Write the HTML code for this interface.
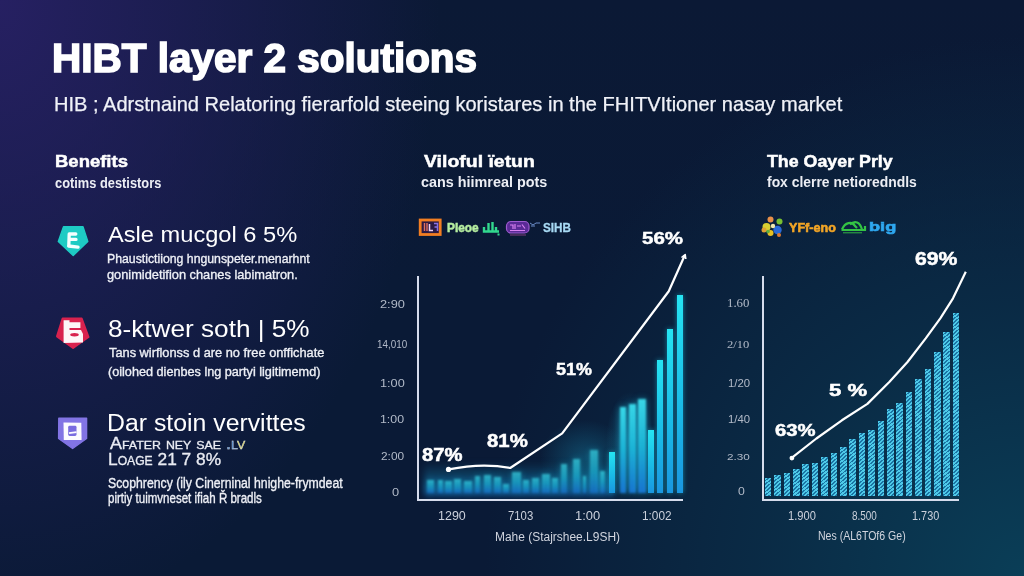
<!DOCTYPE html>
<html><head><meta charset="utf-8"><style>
html,body{margin:0;padding:0;}
body{width:1024px;height:576px;overflow:hidden;position:relative;background:#0d1a37;}
#bg{position:absolute;left:0;top:0;width:1024px;height:576px;
 background:
  radial-gradient(ellipse 440px 620px at 0px 0px, rgba(38,32,98,1) 0%, rgba(38,32,98,0.5) 50%, rgba(38,32,98,0) 100%),
  radial-gradient(ellipse 540px 540px at 1024px 576px, rgba(10,62,87,1) 0%, rgba(10,62,87,0.45) 50%, rgba(10,62,87,0) 100%),
  linear-gradient(180deg,#0b1935 0%,#0a1a36 50%,#0a1a36 100%);}
.t{position:absolute;white-space:nowrap;line-height:1;transform-origin:0 0;}
.sans{font-family:"Liberation Sans", sans-serif;}
.serif{font-family:"Liberation Serif", serif;}
.ax{position:absolute;background:#d6dcec;}
.hb{position:absolute;width:6.8px;background:repeating-linear-gradient(140deg,#4ecae8 0px,#4ecae8 1.6px,#1a74a4 1.6px,#1a74a4 2.8px);}
.gb{position:absolute;background:linear-gradient(180deg,rgba(60,225,240,0.95),rgba(30,190,225,0.9) 50%,rgba(25,120,215,0.95));filter:blur(1.1px);box-shadow:0 0 6px rgba(30,200,235,0.55);}
.band{position:absolute;left:424px;top:462px;width:190px;height:34px;background:linear-gradient(180deg,rgba(20,150,200,0) 0%,rgba(25,160,210,0.3) 45%,rgba(25,120,215,0.5) 100%);filter:blur(3px);}
.haze{position:absolute;left:540px;top:420px;width:90px;height:75px;background:radial-gradient(closest-side,rgba(30,180,220,0.28),rgba(30,180,220,0) 100%);}
.glow{position:absolute;left:606px;top:392px;width:48px;height:100px;background:radial-gradient(closest-side,rgba(40,190,230,0.35),rgba(40,190,230,0) 100%);}
.sb{position:absolute;background:linear-gradient(180deg,#26e4f2,#1ab8e6 60%,#1a96e0);box-shadow:0 0 5px rgba(30,210,240,0.55);}
svg{position:absolute;left:0;top:0;}
</style></head><body>
<div id="bg"></div>
<svg width="1024" height="576" viewBox="0 0 1024 576">
 <defs><filter id="soft" x="-20%" y="-20%" width="140%" height="140%"><feGaussianBlur stdDeviation="0.6"/></filter></defs>
 <!-- icon 1 teal -->
 <path d="M63.5,226.8 L83,226.8 L87.8,241.5 L73.2,255.5 L58.3,241.5 Z" fill="#1ecbc4" stroke="#1ecbc4" stroke-width="1.4" stroke-linejoin="round"/>
 <path d="M69.2,234 L68.8,245.8 M69.2,234 L75.8,234 M71,239.4 L76,239.4 M68.6,246 L78,247.2" stroke="#f4fffe" stroke-width="3.3" fill="none" stroke-linecap="round"/>
 <!-- icon 2 red -->
 <path d="M62.6,318.5 L81.7,318.5 L88.5,337 L73.1,348 L57,336.4 Z" fill="#d8224e" stroke="#d8224e" stroke-width="2" stroke-linejoin="round"/>
 <path d="M63.6,320.3 L69.5,320.3 L69.5,322.2 L80.4,322.2 L80.4,328 L69.5,328 L69.5,330 L81,330 L83,334 L83,342.5 L63.6,343 Z" fill="#fdf6f8"/>
 <ellipse cx="74.5" cy="334.8" rx="4.3" ry="1.7" fill="#d8224e"/>
 <!-- icon 3 purple -->
 <path d="M58.8,418.3 L86.6,418.3 L86.6,438.5 L72.6,448.5 L58.6,438.5 Z" fill="#8274e4" stroke="#8274e4" stroke-width="1.4" stroke-linejoin="round"/>
 <path d="M63.5,422.5 L81.3,422.8 L81.6,440 L63.8,440 Z" fill="#fbfaff"/>
 <rect x="68.2" y="425.8" width="8.3" height="10.2" rx="1.4" fill="#7a6ce0"/>
 <path d="M69,433.2 L76.5,432.2" stroke="#fbfaff" stroke-width="1.8"/>
 <!-- legend 1 icons -->
 <rect x="420.2" y="220" width="20" height="14.5" fill="#2c1a44" stroke="#f27e22" stroke-width="2.8"/>
 <path d="M424.5,223 L424.5,231 M427,223 L427,231" stroke="#e07060" stroke-width="1.4"/>
 <path d="M429.5,224 L429.5,230.5 L433,230.5" stroke="#f0d0f0" stroke-width="1.5" fill="none"/>
 <path d="M434,223.5 L437.5,223.5 L437.5,231 M434.5,227 L437.5,227" stroke="#8a70e0" stroke-width="1.5" fill="none"/>
 <path d="M484,227 L484,231.5 L499,231.5 M488.5,223 L488.5,231 M492.5,222 L492.5,231 M496,227 L496,231" stroke="#32d88e" stroke-width="2.4" fill="none"/>
 <rect x="497.5" y="233.5" width="2" height="2" fill="#32d88e"/>
 <rect x="506.5" y="221.5" width="22.5" height="11.5" rx="4.5" fill="#5a2a96" stroke="#9e5ad0" stroke-width="1.2"/>
 <path d="M510,225 L513,225 L513,229 M515,224 L515,229 M517,226 L521,226 M522,224.5 L525,228.5 M510,230.5 L525,230.5" stroke="#d880f0" stroke-width="1.2" fill="none"/>
 <path d="M510,235 L526,235" stroke="#a04890" stroke-width="0.8"/>
 <path d="M530,223 L533,225 L536,223 L540,223 M531,226 L535,226" stroke="#6a8cc8" stroke-width="1" fill="none"/>
 <!-- legend 2 icons -->
 <g filter="url(#soft)">
 <circle cx="766.5" cy="227" r="4" fill="#d8d030"/>
 <circle cx="764" cy="230" r="2.5" fill="#e0a030"/>
 <circle cx="770.5" cy="219.5" r="3" fill="#e8904a"/>
 <circle cx="779.5" cy="221.5" r="3" fill="#78c030"/>
 <circle cx="770.5" cy="233" r="3" fill="#e8c020"/>
 <circle cx="777.5" cy="230" r="4.2" fill="#2a6ad8"/>
 <circle cx="779" cy="235" r="2" fill="#e07a30"/>
 <circle cx="773" cy="226" r="2.2" fill="#f0e8b0"/>
 <circle cx="768" cy="231.5" r="1.8" fill="#60b040"/>
 </g>
 <path d="M842,229.5 C845,222 852,221 855,226 L857,228 M850,224.5 C855,220 860,222 862,229.5 M841.5,230 L864,230 M865,226 L865,231" stroke="#34c444" stroke-width="2.2" fill="none"/>
 <path d="M843,232.8 L862,232.8" stroke="#34c444" stroke-width="0.9"/>
</svg>
<div class="band"></div><div class="haze"></div><div class="glow"></div>
<div class="gb" style="left:427.0px;top:479.6px;width:6.7px;height:13.4px;opacity:0.72;"></div>
<div class="gb" style="left:437.8px;top:479.6px;width:5.4px;height:13.4px;opacity:0.72;"></div>
<div class="gb" style="left:445.0px;top:480.5px;width:7.0px;height:12.5px;opacity:0.72;"></div>
<div class="gb" style="left:454.0px;top:479.0px;width:7.0px;height:14.0px;opacity:0.72;"></div>
<div class="gb" style="left:463.7px;top:480.5px;width:8.3px;height:12.5px;opacity:0.72;"></div>
<div class="gb" style="left:474.7px;top:475.5px;width:5.3px;height:17.5px;opacity:0.72;"></div>
<div class="gb" style="left:484.0px;top:474.9px;width:7.0px;height:18.1px;opacity:0.72;"></div>
<div class="gb" style="left:493.8px;top:477.0px;width:6.9px;height:16.0px;opacity:0.72;"></div>
<div class="gb" style="left:503.4px;top:483.7px;width:5.5px;height:9.3px;opacity:0.72;"></div>
<div class="gb" style="left:511.6px;top:472.0px;width:9.4px;height:21.0px;opacity:0.72;"></div>
<div class="gb" style="left:522.5px;top:480.0px;width:6.9px;height:13.0px;opacity:0.72;"></div>
<div class="gb" style="left:532.0px;top:478.0px;width:7.0px;height:15.0px;opacity:0.72;"></div>
<div class="gb" style="left:541.7px;top:473.5px;width:8.3px;height:19.5px;opacity:0.72;"></div>
<div class="gb" style="left:552.0px;top:477.7px;width:5.6px;height:15.3px;opacity:0.72;"></div>
<div class="gb" style="left:561.0px;top:463.6px;width:6.0px;height:29.4px;opacity:0.72;"></div>
<div class="gb" style="left:572.8px;top:459.2px;width:7.6px;height:33.8px;opacity:0.72;"></div>
<div class="gb" style="left:582.6px;top:475.5px;width:3.2px;height:17.5px;opacity:0.72;"></div>
<div class="gb" style="left:590.0px;top:449.5px;width:7.8px;height:43.5px;opacity:0.72;"></div>
<div class="gb" style="left:600.0px;top:471.0px;width:5.3px;height:22.0px;opacity:0.72;"></div>
<div class="sb" style="left:609.0px;top:451.6px;width:6.1px;height:41.4px;"></div>
<div class="gb" style="left:619.5px;top:407.0px;width:6.5px;height:86.0px;"></div>
<div class="gb" style="left:629.2px;top:403.9px;width:6.5px;height:89.1px;"></div>
<div class="gb" style="left:638.0px;top:399.0px;width:7.5px;height:94.0px;"></div>
<div class="sb" style="left:647.7px;top:429.5px;width:6.1px;height:63.5px;"></div>
<div class="sb" style="left:657.2px;top:359.7px;width:6.2px;height:133.3px;"></div>
<div class="sb" style="left:667.2px;top:329.4px;width:6.2px;height:163.6px;"></div>
<div class="sb" style="left:676.6px;top:295.0px;width:6.2px;height:198.0px;"></div>
<div class="hb" style="left:764.7px;top:477.8px;height:17.8px"></div>
<div class="hb" style="left:774.1px;top:474.5px;height:21.1px"></div>
<div class="hb" style="left:783.5px;top:473.0px;height:22.6px"></div>
<div class="hb" style="left:792.9px;top:468.9px;height:26.7px"></div>
<div class="hb" style="left:802.3px;top:464.2px;height:31.4px"></div>
<div class="hb" style="left:811.7px;top:463.3px;height:32.3px"></div>
<div class="hb" style="left:821.1px;top:456.7px;height:38.9px"></div>
<div class="hb" style="left:830.5px;top:452.5px;height:43.1px"></div>
<div class="hb" style="left:839.9px;top:447.3px;height:48.3px"></div>
<div class="hb" style="left:849.3px;top:438.9px;height:56.7px"></div>
<div class="hb" style="left:858.7px;top:433.2px;height:62.4px"></div>
<div class="hb" style="left:868.1px;top:429.5px;height:66.1px"></div>
<div class="hb" style="left:877.5px;top:420.6px;height:75.0px"></div>
<div class="hb" style="left:886.9px;top:408.9px;height:86.7px"></div>
<div class="hb" style="left:896.3px;top:402.8px;height:92.8px"></div>
<div class="hb" style="left:905.7px;top:392.4px;height:103.2px"></div>
<div class="hb" style="left:915.1px;top:379.3px;height:116.3px"></div>
<div class="hb" style="left:924.5px;top:369.0px;height:126.6px"></div>
<div class="hb" style="left:933.9px;top:351.6px;height:144.0px"></div>
<div class="hb" style="left:943.3px;top:331.5px;height:164.1px"></div>
<div class="hb" style="left:952.7px;top:312.7px;height:182.9px"></div>
<div class="ax" style="left:416.8px;top:275.5px;width:1.8px;height:225.5px"></div>
<div class="ax" style="left:416.8px;top:499px;width:266.5px;height:2px"></div>
<div class="ax" style="left:761.9px;top:275.5px;width:1.8px;height:225.5px"></div>
<div class="ax" style="left:761.9px;top:499px;width:197px;height:2px"></div>
<svg width="1024" height="576" viewBox="0 0 1024 576">
 <!-- chart lines -->
 <path d="M448.7,469.4 Q482,462.5 510.2,468 L562.2,433.3 L668.75,291.25 L684.7,255.5" fill="none" stroke="#ffffff" stroke-width="2.2" stroke-linejoin="round"/>
 <path d="M681.5,257.5 L685.2,254.5 L685.8,259" fill="none" stroke="#ffffff" stroke-width="1.6" stroke-linejoin="round"/>
 <circle cx="448.5" cy="469.4" r="2.6" fill="#ffffff"/>
 <polyline points="791.7,457.8 816.4,438.5 841.9,420.3 867.4,403.9 889.3,382 907.5,362 925.7,338.3 940.3,318.3 953,298.3 965.8,271.7" fill="none" stroke="#ffffff" stroke-width="2.2" stroke-linejoin="round"/>
 <circle cx="791.9" cy="458.1" r="2.4" fill="#ffffff"/>
</svg>
<div id="t_title" class="t sans" style="left:52.33px;top:38.90px;font-size:40.26px;font-weight:700;color:#ffffff;transform:scaleX(1.0056);-webkit-text-stroke:1.6px #ffffff;">HIBT layer 2 solutions</div>
<div id="t_sub" class="t sans" style="left:54.24px;top:94.00px;font-size:20.78px;font-weight:400;color:#f0f2f8;transform:scaleX(0.9660);-webkit-text-stroke:0.25px #f0f2f8;">HIB ; Adrstnaind Relatoring fierarfold steeing koristares in the FHITVItioner nasay market</div>
<div id="t_h1" class="t sans" style="left:55.04px;top:153.11px;font-size:17.15px;font-weight:700;color:#ffffff;transform:scaleX(1.0787);-webkit-text-stroke:0.5px #ffffff;">Benefits</div>
<div id="t_s1" class="t sans" style="left:54.77px;top:175.72px;font-size:14.83px;font-weight:700;color:#eceef4;transform:scaleX(0.8656);">cotims destistors</div>
<div id="t_h2" class="t sans" style="left:423.64px;top:152.70px;font-size:17.01px;font-weight:700;color:#ffffff;transform:scaleX(1.1433);-webkit-text-stroke:0.5px #ffffff;">Viloful ïetun</div>
<div id="t_s2" class="t sans" style="left:420.72px;top:175.01px;font-size:14.53px;font-weight:700;color:#eceef4;transform:scaleX(0.9909);">cans hiimreal pots</div>
<div id="t_h3" class="t sans" style="left:767.00px;top:154.01px;font-size:16.72px;font-weight:700;color:#ffffff;transform:scaleX(1.0657);-webkit-text-stroke:0.5px #ffffff;">The Oayer Prly</div>
<div id="t_s3" class="t sans" style="left:766.52px;top:175.31px;font-size:14.97px;font-weight:700;color:#eceef4;transform:scaleX(0.9283);">fox clerre netioredndls</div>
<div id="t_i1a" class="t sans" style="left:108.21px;top:223.91px;font-size:22.53px;font-weight:400;color:#ffffff;transform:scaleX(1.0500);">Asle mucgol 6 5%</div>
<div id="t_i1b" class="t sans" style="left:107.38px;top:251.51px;font-size:13.37px;font-weight:400;color:#eef0f6;transform:scaleX(0.9186);-webkit-text-stroke:0.35px #eef0f6;">Phaustictiiong hngunspeter.menarhnt</div>
<div id="t_i1c" class="t sans" style="left:107.25px;top:268.01px;font-size:13.37px;font-weight:400;color:#eef0f6;transform:scaleX(0.9584);-webkit-text-stroke:0.35px #eef0f6;">gonimidetifion chanes labimatron.</div>
<div id="t_i2a" class="t sans" style="left:107.79px;top:316.81px;font-size:23.84px;font-weight:400;color:#ffffff;transform:scaleX(1.0976);">8-ktwer soth | 5%</div>
<div id="t_i2b" class="t sans" style="left:109.39px;top:346.91px;font-size:12.94px;font-weight:400;color:#eef0f6;transform:scaleX(0.9897);-webkit-text-stroke:0.35px #eef0f6;">Tans wirflonss d are no free onffichate</div>
<div id="t_i2c" class="t sans" style="left:108.40px;top:365.60px;font-size:12.94px;font-weight:400;color:#eef0f6;transform:scaleX(0.9781);-webkit-text-stroke:0.35px #eef0f6;">(oilohed dienbes lng partyi ligitimemd)</div>
<div id="t_i3a" class="t sans" style="left:107.22px;top:411.01px;font-size:23.98px;font-weight:400;color:#ffffff;transform:scaleX(1.0356);">Dar stoin vervittes</div>
<div id="t_i3b" class="t sans" style="left:109.64px;top:435.72px;font-size:15.99px;font-weight:400;color:#e8eaf2;transform:scaleX(1.1239);font-variant:small-caps;-webkit-text-stroke:0.3px #eef0f6;">Afater ney sae <span style='color:#3a78c0'>.l</span><span style='color:#d8d040'>v</span></div>
<div id="t_i3c" class="t sans" style="left:107.92px;top:450.81px;font-size:17.15px;font-weight:400;color:#e8eaf2;transform:scaleX(1.0111);font-variant:small-caps;-webkit-text-stroke:0.3px #eef0f6;">Loage 21 7 8%</div>
<div id="t_i3d" class="t sans" style="left:107.82px;top:475.82px;font-size:14.24px;font-weight:400;color:#eef0f6;transform:scaleX(0.8622);-webkit-text-stroke:0.35px #eef0f6;">Scophrency (ily Cinerninal hnighe-frymdeat</div>
<div id="t_i3e" class="t sans" style="left:108.09px;top:490.71px;font-size:14.10px;font-weight:400;color:#eef0f6;transform:scaleX(0.8183);-webkit-text-stroke:0.35px #eef0f6;">pirtiy tuimvneset ifiah Ř bradls</div>
<div id="c1y1" class="t sans" style="left:380.27px;top:298.91px;font-size:11.48px;font-weight:400;color:#b2bac8;transform:scaleX(1.1152);">2:90</div>
<div id="c1y2" class="t sans" style="left:376.55px;top:338.82px;font-size:10.61px;font-weight:400;color:#b2bac8;transform:scaleX(0.9303);">14,010</div>
<div id="c1y3" class="t sans" style="left:380.15px;top:378.01px;font-size:11.34px;font-weight:400;color:#b2bac8;transform:scaleX(1.1211);">1:00</div>
<div id="c1y4" class="t sans" style="left:380.18px;top:414.21px;font-size:10.90px;font-weight:400;color:#b2bac8;transform:scaleX(1.1350);">1:00</div>
<div id="c1y5" class="t sans" style="left:380.96px;top:451.20px;font-size:11.19px;font-weight:400;color:#b2bac8;transform:scaleX(1.0627);">2:00</div>
<div id="c1y6" class="t sans" style="left:391.62px;top:486.60px;font-size:10.61px;font-weight:400;color:#b2bac8;transform:scaleX(1.2062);">0</div>
<div id="c1x1" class="t sans" style="left:438.16px;top:510.40px;font-size:12.35px;font-weight:400;color:#ccd1dc;transform:scaleX(1.0112);">1290</div>
<div id="c1x2" class="t sans" style="left:508.12px;top:510.40px;font-size:12.35px;font-weight:400;color:#ccd1dc;transform:scaleX(0.9189);">7103</div>
<div id="c1x3" class="t sans" style="left:575.24px;top:510.40px;font-size:12.35px;font-weight:400;color:#ccd1dc;transform:scaleX(1.0455);">1:00</div>
<div id="c1x4" class="t sans" style="left:641.76px;top:510.40px;font-size:12.35px;font-weight:400;color:#ccd1dc;transform:scaleX(0.9591);">1:002</div>
<div id="c1xt" class="t sans" style="left:495.12px;top:530.01px;font-size:13.66px;font-weight:400;color:#d0d4de;transform:scaleX(0.8760);">Mahe (Stajrshee.L9SH)</div>
<div id="c1p1" class="t sans" style="left:421.91px;top:447.25px;font-size:17.51px;font-weight:700;color:#ffffff;transform:scaleX(1.1577);-webkit-text-stroke:0.5px #fff;">87%</div>
<div id="c1p2" class="t sans" style="left:487.24px;top:433.01px;font-size:17.88px;font-weight:700;color:#ffffff;transform:scaleX(1.1397);-webkit-text-stroke:0.5px #fff;">81%</div>
<div id="c1p3" class="t sans" style="left:555.79px;top:360.70px;font-size:17.30px;font-weight:700;color:#ffffff;transform:scaleX(1.0384);-webkit-text-stroke:0.5px #fff;">51%</div>
<div id="c1p4" class="t sans" style="left:641.70px;top:231.41px;font-size:16.57px;font-weight:700;color:#ffffff;transform:scaleX(1.2367);-webkit-text-stroke:0.5px #fff;">56%</div>
<div id="c2y1" class="t serif" style="left:727.28px;top:296.90px;font-size:12.06px;font-weight:400;color:#b2bac8;transform:scaleX(1.0640);">1.60</div>
<div id="c2y2" class="t serif" style="left:727.25px;top:338.81px;font-size:11.15px;font-weight:400;color:#b2bac8;transform:scaleX(1.1300);">2/10</div>
<div id="c2y3" class="t sans" style="left:728.04px;top:378.01px;font-size:11.34px;font-weight:400;color:#b2bac8;transform:scaleX(1.0012);">1/20</div>
<div id="c2y4" class="t sans" style="left:728.00px;top:414.21px;font-size:10.90px;font-weight:400;color:#b2bac8;transform:scaleX(1.0389);">1/40</div>
<div id="c2y5" class="t sans" style="left:726.80px;top:451.76px;font-size:9.96px;font-weight:400;color:#b2bac8;transform:scaleX(1.1805);">2.30</div>
<div id="c2y6" class="t sans" style="left:738.19px;top:487.20px;font-size:10.03px;font-weight:400;color:#b2bac8;transform:scaleX(1.2222);">0</div>
<div id="c2x1" class="t sans" style="left:787.69px;top:511.10px;font-size:11.92px;font-weight:400;color:#ccd1dc;transform:scaleX(0.9341);">1.900</div>
<div id="c2x2" class="t sans" style="left:852.48px;top:511.10px;font-size:11.92px;font-weight:400;color:#ccd1dc;transform:scaleX(0.8348);">8.500</div>
<div id="c2x3" class="t sans" style="left:912.35px;top:511.10px;font-size:11.92px;font-weight:400;color:#ccd1dc;transform:scaleX(0.9152);">1.730</div>
<div id="c2xt" class="t sans" style="left:818.13px;top:529.01px;font-size:13.37px;font-weight:400;color:#d0d4de;transform:scaleX(0.7887);">Nes (AL6TOf6 Ge)</div>
<div id="c2p1" class="t sans" style="left:915.01px;top:250.01px;font-size:18.17px;font-weight:700;color:#ffffff;transform:scaleX(1.1680);-webkit-text-stroke:0.5px #fff;">69%</div>
<div id="c2p2" class="t sans" style="left:829.39px;top:382.81px;font-size:15.70px;font-weight:700;color:#ffffff;transform:scaleX(1.4059);-webkit-text-stroke:0.5px #fff;">5 %</div>
<div id="c2p3" class="t sans" style="left:774.91px;top:421.60px;font-size:17.01px;font-weight:700;color:#ffffff;transform:scaleX(1.1923);-webkit-text-stroke:0.5px #fff;">63%</div>
<div id="l1a" class="t sans" style="left:447.30px;top:221.91px;font-size:12.06px;font-weight:700;color:#b6eea0;transform:scaleX(0.9852);-webkit-text-stroke:0.5px #b6eea0;">Pleoe</div>
<div id="l1b" class="t sans" style="left:542.89px;top:222.00px;font-size:12.65px;font-weight:700;color:#a8daf4;transform:scaleX(0.9263);-webkit-text-stroke:0.3px #a8daf4;">SIHB</div>
<div id="l2a" class="t sans" style="left:789.15px;top:222.00px;font-size:12.79px;font-weight:700;color:#f2a526;transform:scaleX(0.9846);-webkit-text-stroke:0.6px #f2a526;">YFf-eno</div>
<div id="l2b" class="t sans" style="left:869.39px;top:220.00px;font-size:13.08px;font-weight:700;color:#2fa8f0;transform:scaleX(1.3916);-webkit-text-stroke:0.6px #2fa8f0;">big</div>
</body></html>
